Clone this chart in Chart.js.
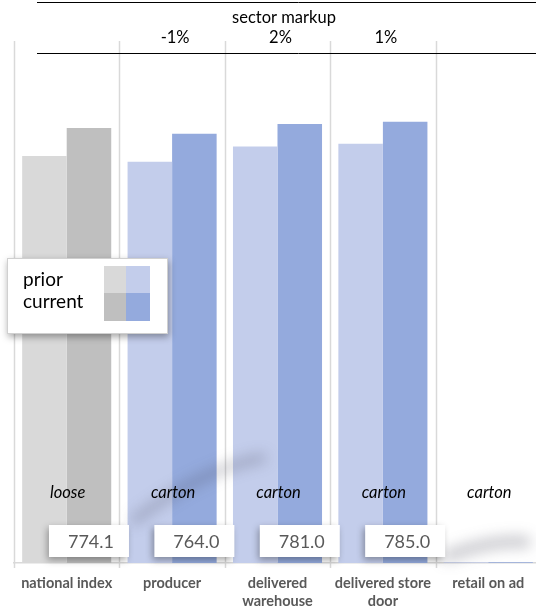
<!DOCTYPE html>
<html>
<head>
<meta charset="utf-8">
<script src="https://cdn.jsdelivr.net/npm/chart.js@4/dist/chart.umd.min.js"></script>
<style>
html,body{margin:0;padding:0;background:#fff;overflow:hidden;}
#wrap{width:560px;height:613px;}
</style>
</head>
<body>
<div id="wrap"><canvas id="c" width="560" height="613"></canvas></div>
<script>
const categories = ['national index', 'producer', ['delivered', 'warehouse'], ['delivered store', 'door'], 'retail on ad'];
const priorValues = [724, 714, 741, 746, 1.5];
const currentValues = [774.1, 764.0, 781.0, 785.0, 1.5];
const packLabels = ['loose', 'carton', 'carton', 'carton', 'carton'];
const markupLabels = ['', '-1%', '2%', '1%', ''];
const boxedValues = ['774.1', '764.0', '781.0', '785.0', ''];
const seriesNames = ['prior', 'current'];

const grayPrior = '#d9d9d9', grayCurrent = '#bfbfbf';
const bluePrior = '#c3cdeb', blueCurrent = '#94aadd';
const FONT = 'Lato, "Open Sans", sans-serif';

const overlay = {
  id: 'overlay',
  beforeDatasetsDraw(chart) {
    const ctx = chart.ctx, x = chart.scales.x, area = chart.chartArea;
    const half = (x.getPixelForValue(1) - x.getPixelForValue(0)) / 2;
    ctx.save();
    ctx.strokeStyle = '#d9d9d9';
    ctx.lineWidth = 1.5;
    for (let i = 0; i <= categories.length; i++) {
      const px = Math.round(x.getPixelForValue(i) - half) + 0.5;
      ctx.beginPath(); ctx.moveTo(px, 41); ctx.lineTo(px, area.bottom + 5); ctx.stroke();
    }
    ctx.restore();
  },
  afterDatasetsDraw(chart) {
    const ctx = chart.ctx, x = chart.scales.x, area = chart.chartArea;
    const cur = chart.getDatasetMeta(1);
    // soft shadow streaks
    ctx.save();
    ctx.filter = 'blur(7px)';
    ctx.strokeStyle = 'rgba(60,60,80,0.28)';
    ctx.lineCap = 'round';
    ctx.lineWidth = 9;
    ctx.beginPath(); ctx.moveTo(135, 520); ctx.quadraticCurveTo(200, 470, 262, 458); ctx.stroke();
    ctx.lineWidth = 12;
    ctx.beginPath(); ctx.moveTo(448, 556); ctx.quadraticCurveTo(490, 540, 525, 542); ctx.stroke();
    ctx.restore();

    ctx.save();
    // header
    ctx.strokeStyle = '#000'; ctx.lineWidth = 1;
    ctx.beginPath(); ctx.moveTo(37, 2.5); ctx.lineTo(560, 2.5); ctx.stroke();
    ctx.beginPath(); ctx.moveTo(37, 53.5); ctx.lineTo(560, 53.5); ctx.stroke();
    ctx.fillStyle = '#000';
    ctx.textAlign = 'center'; ctx.textBaseline = 'middle';
    ctx.font = '16.5px ' + FONT;
    ctx.fillText('sector markup', 284, 18);
    markupLabels.forEach((m, i) => { if (m) ctx.fillText(m, x.getPixelForValue(i) + 3, 38); });

    // italic pack labels
    ctx.font = 'italic 16.5px ' + FONT;
    packLabels.forEach((t, i) => ctx.fillText(t, x.getPixelForValue(i) + 1, 493));

    // value boxes
    boxedValues.forEach((v, i) => {
      if (!v) return;
      const cx = cur.data[i].x;
      ctx.save();
      ctx.shadowColor = 'rgba(0,0,0,0.35)'; ctx.shadowBlur = 7; ctx.shadowOffsetX = -2; ctx.shadowOffsetY = 3;
      ctx.fillStyle = '#fff';
      ctx.fillRect(cx - 40, 525, 80, 32);
      ctx.restore();
      ctx.fillStyle = '#595959';
      ctx.font = '18px ' + FONT;
      ctx.fillText(v, cx + 2, 542);
    });

    // legend
    ctx.save();
    ctx.shadowColor = 'rgba(0,0,0,0.35)'; ctx.shadowBlur = 7; ctx.shadowOffsetX = 1; ctx.shadowOffsetY = 3;
    ctx.fillStyle = '#fff';
    ctx.fillRect(7, 258, 161, 76);
    ctx.restore();
    ctx.strokeStyle = '#d0d0d0'; ctx.lineWidth = 1;
    ctx.strokeRect(7.5, 258.5, 160, 75);
    ctx.fillStyle = grayPrior; ctx.fillRect(104, 266, 22, 27);
    ctx.fillStyle = bluePrior; ctx.fillRect(126, 266, 24, 27);
    ctx.fillStyle = grayCurrent; ctx.fillRect(104, 293, 22, 28);
    ctx.fillStyle = blueCurrent; ctx.fillRect(126, 293, 24, 28);
    ctx.fillStyle = '#000'; ctx.textAlign = 'left';
    ctx.font = '19px ' + FONT;
    ctx.fillText(seriesNames[0], 23, 280);
    ctx.fillText(seriesNames[1], 23, 302);
    ctx.restore();
  }
};

new Chart(document.getElementById('c'), {
  type: 'bar',
  data: {
    labels: categories,
    datasets: [
      { label: seriesNames[0], data: priorValues,
        backgroundColor: priorValues.map((v, i) => i === 0 ? grayPrior : bluePrior) },
      { label: seriesNames[1], data: currentValues,
        backgroundColor: currentValues.map((v, i) => i === 0 ? grayCurrent : blueCurrent) }
    ]
  },
  options: {
    responsive: false,
    animation: false,
    layout: { padding: { left: 14, right: 19, top: 1, bottom: 0 } },
    datasets: { bar: { barPercentage: 1, categoryPercentage: 0.845 } },
    plugins: { legend: { display: false }, tooltip: { enabled: false } },
    scales: {
      x: {
        grid: { display: false, drawTicks: false },
        border: { display: true, color: '#d9d9d9', width: 1.5 },
        ticks: { color: '#595959', font: { family: FONT, size: 14.5, weight: 'bold', lineHeight: 1.2 }, padding: 12, maxRotation: 0, autoSkip: false },
        afterFit: (s) => { s.height = 50; }
      },
      y: { display: false, min: 0, max: 1000 }
    }
  },
  plugins: [overlay]
});
</script>
</body>
</html>
